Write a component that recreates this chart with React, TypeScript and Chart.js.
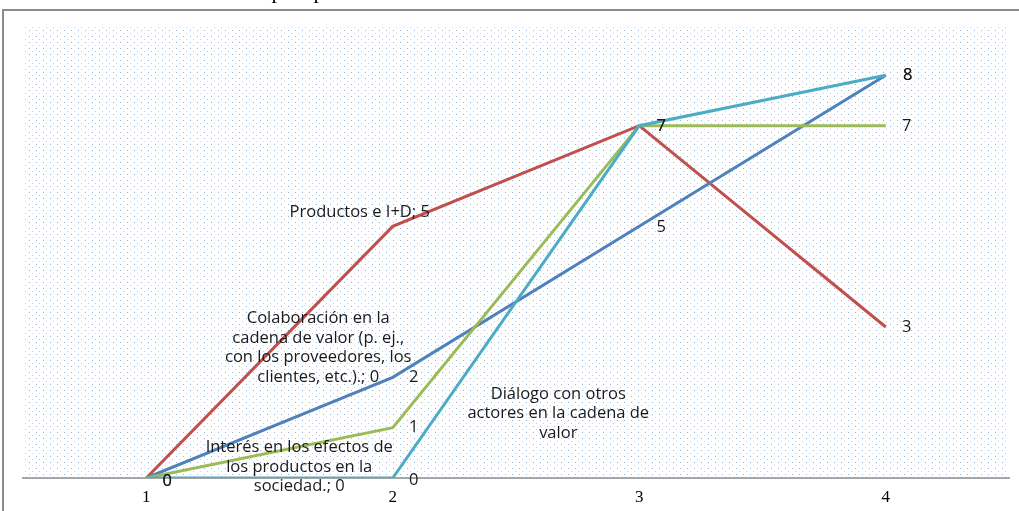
import React, { useEffect, useRef } from "react";
import { Chart, registerables } from "chart.js";

Chart.register(...registerables);

const categories = ["1", "2", "3", "4"];
const productosID = [0, 5, 7, 3];
const colaboracion = [0, 2, 5, 8];
const interes = [0, 1, 7, 7];
const dialogo = [0, 0, 7, 8];

const labelsProductos: (string | string[])[] = ["0", "Productos e I+D; 5", "7", "3"];
const labelsColaboracion: (string | string[])[] = [
  ["Colaboración en la", "cadena de valor (p. ej.,", "con los proveedores, los", "clientes, etc.).; 0"],
  "2",
  "5",
  "8",
];
const labelsInteres: (string | string[])[] = [
  ["Interés en los efectos de", "los productos en la", "sociedad.; 0"],
  "1",
  "7",
  "7",
];
const labelsDialogo: (string | string[])[] = [
  "0",
  "0",
  ["Diálogo con otros", "actores en la cadena de", "valor"],
  "8",
];

// label placement offsets relative to each point (dx, dy of label center)
const offsetsProductos = [[21, 3], [-33, -14], [22, 1], [21, 0]];
const offsetsColaboracion = [[172, -130], [21, 0], [22, 1], [22, 0]];
const offsetsInteres = [[153, -11], [21, 0], [22, 1], [21, 1]];
const offsetsDialogo = [[21, 3], [21, 2], [-81, 288], [22, 0]];

const LABEL_FONT = '16.5px "Open Sans"';
const LINE_H = 19.5;

function makePattern(ctx: CanvasRenderingContext2D) {
  const c = document.createElement("canvas");
  c.width = 7;
  c.height = 6;
  const p = c.getContext("2d")!;
  p.fillStyle = "#ffffff";
  p.fillRect(0, 0, 7, 6);
  p.fillStyle = "#95b5de";
  p.fillRect(1, 0, 1, 1);
  p.fillStyle = "#c0d2ea";
  p.fillRect(4, 3, 1, 1);
  return ctx.createPattern(c, "repeat");
}

const backgroundPlugin = {
  id: "bgFrame",
  beforeDraw(chart: any) {
    const { ctx, chartArea, width, height } = chart;
    ctx.save();
    ctx.fillStyle = "#ffffff";
    ctx.fillRect(0, 0, width, height);
    const pat = makePattern(ctx);
    if (pat) {
      ctx.fillStyle = pat;
      ctx.fillRect(chartArea.left, chartArea.top, chartArea.right - chartArea.left, chartArea.bottom - chartArea.top);
    }
    // outer frame
    ctx.strokeStyle = "#8c8c8c";
    ctx.lineWidth = 2;
    ctx.beginPath();
    ctx.moveTo(3, height + 2);
    ctx.lineTo(3, 10);
    ctx.lineTo(width + 2, 10);
    ctx.stroke();
    // cut-off title descenders above the frame
    ctx.fillStyle = "#000000";
    ctx.font = '22px "Liberation Serif"';
    ctx.textAlign = "center";
    ctx.textBaseline = "alphabetic";
    ctx.fillText("p", 277, -2);
    ctx.fillText("p", 319, -2);
    ctx.restore();
  },
};

const labelsPlugin = {
  id: "pointLabels",
  afterDatasetsDraw(chart: any) {
    const { ctx } = chart;
    ctx.save();
    ctx.font = LABEL_FONT;
    ctx.fillStyle = "#1a1a1a";
    ctx.textAlign = "center";
    ctx.textBaseline = "middle";
    chart.data.datasets.forEach((ds: any, i: number) => {
      const meta = chart.getDatasetMeta(i);
      meta.data.forEach((pt: any, j: number) => {
        const lab = ds.pointLabels[j];
        const off = ds.labelOffsets[j];
        const lines = Array.isArray(lab) ? lab : [lab];
        const cx = pt.x + off[0];
        const cy = pt.y + off[1];
        const start = cy - ((lines.length - 1) * LINE_H) / 2;
        lines.forEach((ln: string, k: number) => {
          ctx.fillText(ln, cx, start + k * LINE_H);
        });
      });
    });
    ctx.restore();
  },
};

export default function App() {
  const ref = useRef<HTMLCanvasElement | null>(null);

  useEffect(() => {
    if (!ref.current) return;
    const mk = (label: string, data: number[], color: string, order: number, pl: any, offs: number[][]) => ({
      label,
      data,
      borderColor: color,
      backgroundColor: color,
      borderWidth: 3,
      pointRadius: 0,
      tension: 0,
      fill: false,
      order,
      pointLabels: pl,
      labelOffsets: offs,
    });
    const chart = new Chart(ref.current, {
      type: "line",
      data: {
        labels: categories,
        datasets: [
          mk("Productos e I+D", productosID, "#c0504d", 3, labelsProductos, offsetsProductos),
          mk("Colaboración en la cadena de valor", colaboracion, "#4f81bd", 2, labelsColaboracion, offsetsColaboracion),
          mk("Interés en los efectos de los productos en la sociedad", interes, "#9bbb59", 1, labelsInteres, offsetsInteres),
          mk("Diálogo con otros actores en la cadena de valor", dialogo, "#4bacc6", 0, labelsDialogo, offsetsDialogo),
        ] as any,
      },
      options: {
        animation: false,
        responsive: false,
        maintainAspectRatio: false,
        layout: { padding: { left: 23, right: 10, top: 25, bottom: 0 } },
        plugins: {
          legend: { display: false },
          tooltip: { enabled: false },
          title: { display: false },
        },
        scales: {
          x: {
            offset: true,
            grid: { display: false, drawTicks: false },
            border: { display: true, color: "#a6a6a6", width: 2 },
            ticks: {
              color: "#000000",
              font: { family: "Liberation Serif, serif", size: 17 },
              padding: 9,
              maxRotation: 0,
            },
            afterFit: (axis: any) => {
              axis.height = 33;
            },
          },
          y: {
            display: false,
            min: 0,
            max: 9,
          },
        },
      },
      plugins: [backgroundPlugin, labelsPlugin],
    });
    return () => chart.destroy();
  }, []);

  return (
    <div style={{ position: "fixed", left: 0, top: 0, width: 1019, height: 511, background: "#fff" }}>
      <canvas ref={ref} width={1019} height={511} style={{ display: "block", width: 1019, height: 511 }} />
    </div>
  );
}
